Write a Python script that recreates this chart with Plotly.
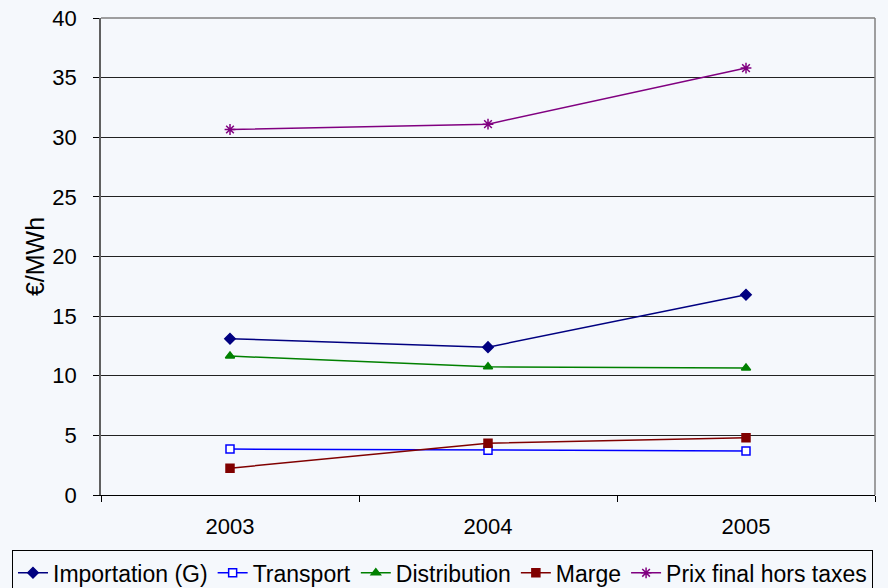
"""Prix de l'électricité : composantes 2003-2005 (€/MWh)."""

import plotly.graph_objects as go

# ---------------------------------------------------------------------------
# Data
# ---------------------------------------------------------------------------

years = ["2003", "2004", "2005"]

importation = [13.1, 12.4, 16.8]
transport = [3.85, 3.75, 3.7]
distribution = [11.65, 10.75, 10.65]
marge = [2.25, 4.35, 4.8]
prix_final = [30.65, 31.1, 35.8]

y_ticks = [0, 5, 10, 15, 20, 25, 30, 35, 40]

# ---------------------------------------------------------------------------
# Style
# ---------------------------------------------------------------------------

_BG = "#F5F8FC"
_FONT = "Liberation Sans, Arial, sans-serif"

_SERIES = [
    # name, values, colour, symbol, marker fill
    ("Importation (G)", importation, "#000080", "diamond", "#000080"),
    ("Transport", transport, "#0000FF", "square", "#FFFFFF"),
    ("Distribution", distribution, "#008000", "triangle-up", "#008000"),
    ("Marge", marge, "#800000", "square", "#800000"),
    ("Prix final hors taxes", prix_final, "#800080", "asterisk", "#800080"),
]

fig = go.Figure()

for name, values, colour, symbol, fill in _SERIES:
    fig.add_trace(go.Scatter(
        x=years,
        y=values,
        name=name,
        mode="lines+markers",
        line=dict(color=colour, width=1.5),
        marker=dict(
            symbol=symbol,
            size=8 if symbol != "asterisk" else 9,
            color=fill,
            line=dict(color=colour, width=1.5),
        ),
    ))

# top / right frame of the plot area (grey)
fig.add_shape(type="line", xref="paper", yref="paper", x0=0, x1=1, y0=1, y1=1,
              line=dict(color="#808080", width=1.5))
fig.add_shape(type="line", xref="paper", yref="paper", x0=1, x1=1, y0=0, y1=1,
              line=dict(color="#808080", width=1.5))

fig.update_layout(
    width=888,
    height=588,
    paper_bgcolor=_BG,
    plot_bgcolor=_BG,
    font=dict(family=_FONT, size=22, color="#000000"),
    margin=dict(l=101, r=13, t=18, b=93, autoexpand=False),
    xaxis=dict(
        type="category",
        range=[-0.5, 2.5],
        automargin=False,
        showgrid=False,
        showline=True,
        linecolor="#000000",
        linewidth=1,
        ticks="outside",
        tickson="boundaries",
        ticklen=6,
        tickcolor="#000000",
        tickfont=dict(size=22),
        ticklabelstandoff=12,
    ),
    yaxis=dict(
        title=dict(text="€/MWh", font=dict(size=25), standoff=1),
        automargin=False,
        range=[0, 40],
        tickvals=y_ticks,
        ticksuffix="\u00a0",
        ticklabelstandoff=12,
        showgrid=True,
        gridcolor="#222222",
        gridwidth=1,
        zeroline=False,
        showline=True,
        linecolor="#606060",
        linewidth=1.5,
        ticks="outside",
        ticklen=6,
        tickcolor="#000000",
        tickfont=dict(size=22),
    ),
    legend=dict(
        orientation="h",
        x=-0.115,
        xanchor="left",
        y=-0.116,
        yanchor="top",
        bgcolor=_BG,
        bordercolor="#000000",
        borderwidth=1,
        font=dict(size=23),
        tracegroupgap=0,
    ),
    showlegend=True,
)

fig.write_html(
    "out.html",
    config={"displayModeBar": False},
    post_script="document.body.style.margin='0';",
)
